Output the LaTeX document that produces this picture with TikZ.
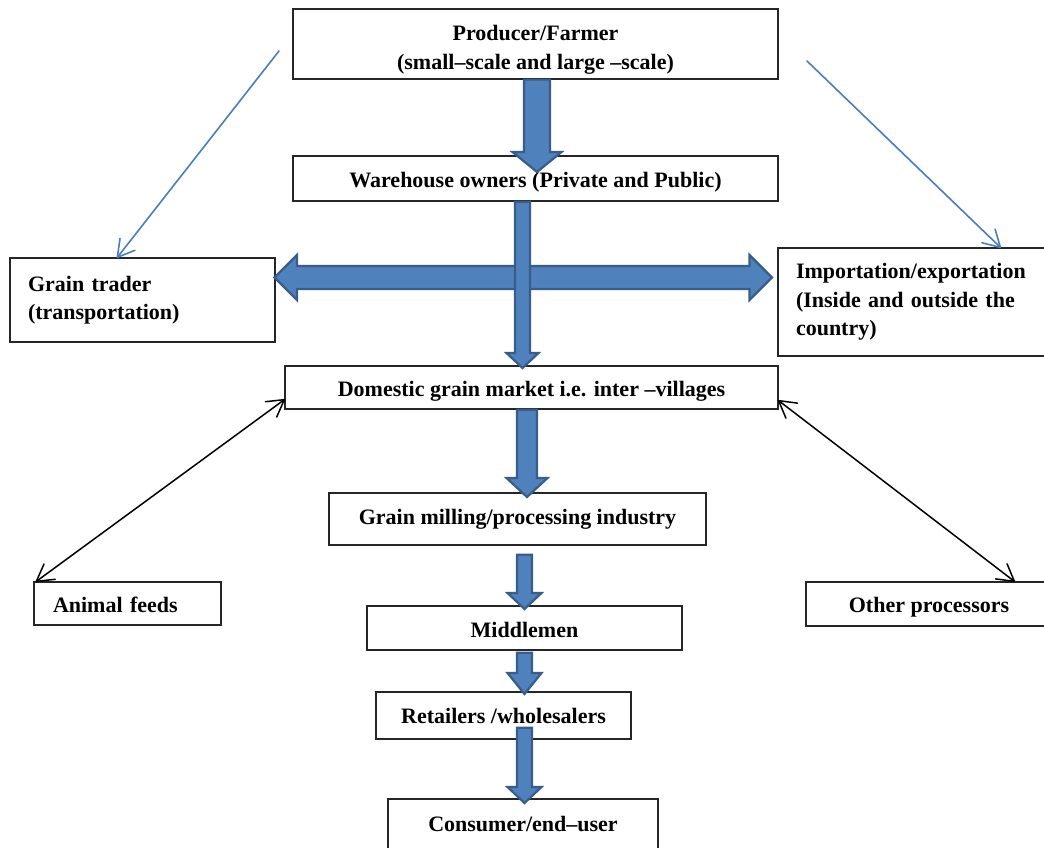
\documentclass[tikz,border=0pt]{standalone}
\usepackage{fontspec}
\setmainfont{Liberation Serif}
\usetikzlibrary{calc}
\definecolor{blkfill}{HTML}{4F81BD}
\definecolor{blkline}{HTML}{385D8A}
\definecolor{thinblue}{HTML}{4A7EBB}
\newcommand\blkdn[5]{\draw[blk] let \p1=(#1), \p2=(#2) in (\x2-#3,\y1) -- (\x2-#3,\y2+#5) -- (\x2-#4,\y2+#5) -- (\x2,\y2) -- (\x2+#4,\y2+#5) -- (\x2+#3,\y2+#5) -- (\x2+#3,\y1) -- cycle;}
\newcommand\barb[3]{\draw[#1] ($(#2)!19pt!30:(#3)$) -- (#2) -- ($(#2)!19pt!-30:(#3)$);}
\newcommand\dropby[2]{\raisebox{-#1}[\height][\depth]{#2}}
\begin{document}
\begin{tikzpicture}[x=1pt,y=-1pt,
  box/.style={draw=black!85, line width=1.3pt, fill=white, inner sep=0pt, align=center, font=\fontsize{22}{28.5}\selectfont\bfseries},
  lbox/.style={box, align=left, inner xsep=18pt},
  blk/.style={fill=blkfill, draw=blkline, line width=2.2pt, line join=miter},
  thinline/.style={draw=thinblue, line width=1.6pt, line cap=round, line join=round},
  blackline/.style={draw=black, line width=1.5pt, line cap=round, line join=round}]
\useasboundingbox (0,0) rectangle (1044,848);
\fill[white] (0,0) rectangle (1044,848);
\clip (0,0) rectangle (1044,848);

% boxes
\node[box, minimum width=485pt, minimum height=70pt] (prod) at (535.5,44) {\dropby{6pt}{\parbox[c]{480pt}{\centering Producer/Farmer\\(small–scale and large –scale)}}};
\node[box, minimum width=485pt, minimum height=45pt] (ware) at (535.5,178.5) {\dropby{4pt}{Warehouse owners (Private and Public)}};
\node[lbox, text width=229pt, minimum height=84pt] (trader) at (142.5,300) {Grain trader\\(transportation)};
\node[lbox, text width=238pt, minimum height=108pt] (imp) at (915,302) {Importation/exportation\\(Inside and outside the\\country)};
\node[box, minimum width=493pt, minimum height=43pt] (dom) at (531.5,387.5) {\dropby{4pt}{Domestic grain market i.e. inter –villages}};
\node[box, minimum width=377pt, minimum height=52pt] (mill) at (517.5,519) {Grain milling/processing industry};
\node[lbox, text width=149pt, inner xsep=19pt, minimum height=43pt] (animal) at (127.5,603.5) {\dropby{1pt}{Animal feeds}};
\node[box, minimum width=246pt, minimum height=44pt] (other) at (929,604) {\dropby{3pt}{Other processors}};
\node[box, minimum width=315pt, minimum height=44pt] (mid) at (524.5,628) {\dropby{2pt}{Middlemen}};
\node[box, minimum width=255pt, minimum height=47pt] (ret) at (503.5,715.5) {Retailers /wholesalers};
\node[box, minimum width=270pt, minimum height=50pt] (con) at (523,824) {Consumer/end–user};

% thin blue arrows
\coordinate (b1s) at (279,51);
\coordinate (b1e) at ($(trader.north west)+(108,0)$);
\coordinate (b2s) at (807,61);
\coordinate (b2e) at ($(imp.north west)+(223,0)$);
\draw[thinline] (b1s) -- (b1e);
\barb{thinline}{b1e}{b1s}
\draw[thinline] (b2s) -- (b2e);
\barb{thinline}{b2e}{b2s}

% black double arrows
\coordinate (k1a) at ($(dom.south west)+(0,-10)$);
\coordinate (k1b) at ($(animal.north west)+(3,0)$);
\coordinate (k2a) at ($(dom.south east)+(0,-9)$);
\coordinate (k2b) at ($(other.north west)+(209,0)$);
\draw[blackline] (k1a) -- (k1b);
\barb{blackline}{k1a}{k1b}
\barb{blackline}{k1b}{k1a}
\draw[blackline] (k2a) -- (k2b);
\barb{blackline}{k2a}{k2b}
\barb{blackline}{k2b}{k2a}

% block arrows
\coordinate (t1) at (537,172);
\blkdn{prod.south}{t1}{13pt}{24.5pt}{20pt}

\coordinate (hl) at (274.5,277.5);
\coordinate (hr) at (772,277.5);
\draw[blk] let \p1=(hl), \p2=(hr) in (\x1,\y1) -- (\x1+22.5pt,\y1+22.5pt) -- (\x1+22.5pt,\y1+11.5pt) -- (\x2-22.5pt,\y1+11.5pt) -- (\x2-22.5pt,\y1+22.5pt) -- (\x2,\y2) -- (\x2-22.5pt,\y1-22.5pt) -- (\x2-22.5pt,\y1-11.5pt) -- (\x1+22.5pt,\y1-11.5pt) -- (\x1+22.5pt,\y1-22.5pt) -- cycle;

\coordinate (t2) at (522.5,368);
\blkdn{ware.south}{t2}{7.5pt}{16pt}{15pt}

\coordinate (t4) at (527,497);
\blkdn{dom.south}{t4}{10pt}{20.5pt}{19pt}

\coordinate (t5) at (524.5,609);
\blkdn{$(mill.south)+(0,9)$}{t5}{7.5pt}{17pt}{16pt}

\coordinate (t6) at (524.5,694);
\blkdn{$(mid.south)+(0,2)$}{t6}{7.5pt}{17pt}{21pt}

\coordinate (t7) at (524.5,803);
\blkdn{$(ret.south)+(0,-12)$}{t7}{7.5pt}{17pt}{16pt}
\end{tikzpicture}
\end{document}
